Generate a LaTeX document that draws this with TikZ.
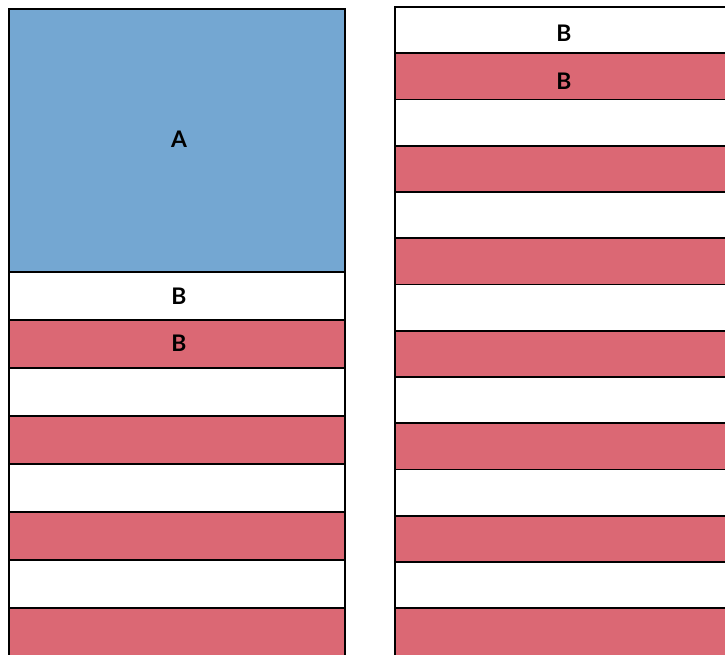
\documentclass[tikz,border=0pt]{standalone}
\usepackage{fontspec}
\setmainfont{Lato}
\usepackage{xcolor}
\definecolor{steel}{HTML}{74A7D2}
\definecolor{salmon}{HTML}{DB6874}
\tikzset{
  cell/.style={draw=black, line width=0.9pt},
  tag/.style={font=\bfseries\fontsize{13}{15}\selectfont, text=black}
}

\begin{document}
\begin{tikzpicture}[x=0.02cm, y=-0.02cm]
    \useasboundingbox (0,0) rectangle (725,654);
    \clip (0,0) rectangle (725,654);

    % Left column: big block
    \fill[steel] (9,9) rectangle (345,272);
    \draw[cell] (9,9) rectangle (345,272);
    \node[tag] (labelA) at (179,139) {A};

    % Left column: stripes
    \foreach \i in {0,...,7} {
        \pgfmathsetmacro{\top}{272+48*\i}
        \pgfmathsetmacro{\bot}{272+48*(\i+1)}
        \ifodd\i
            \fill[salmon] (9,\top) rectangle (345,\bot);
        \fi
        \draw[cell] (9,\top) rectangle (345,\bot);
    }
    \node[tag] (labelB1) at (179,296) {B};
    \node[tag] (labelB2) at (179,343) {B};

    % Right column: stripes
    \foreach \i in {0,...,13} {
        \pgfmathsetmacro{\top}{7+46.25*\i}
        \pgfmathsetmacro{\bot}{7+46.25*(\i+1)+(\i==13)*4}
        \ifodd\i
            \fill[salmon] (395,\top) rectangle (735,\bot);
        \fi
        \draw[cell] (395,\top) rectangle (735,\bot);
    }
    \node[tag] (labelB3) at (564,33) {B};
    \node[tag] (labelB4) at (564,81) {B};
\end{tikzpicture}
\end{document}
